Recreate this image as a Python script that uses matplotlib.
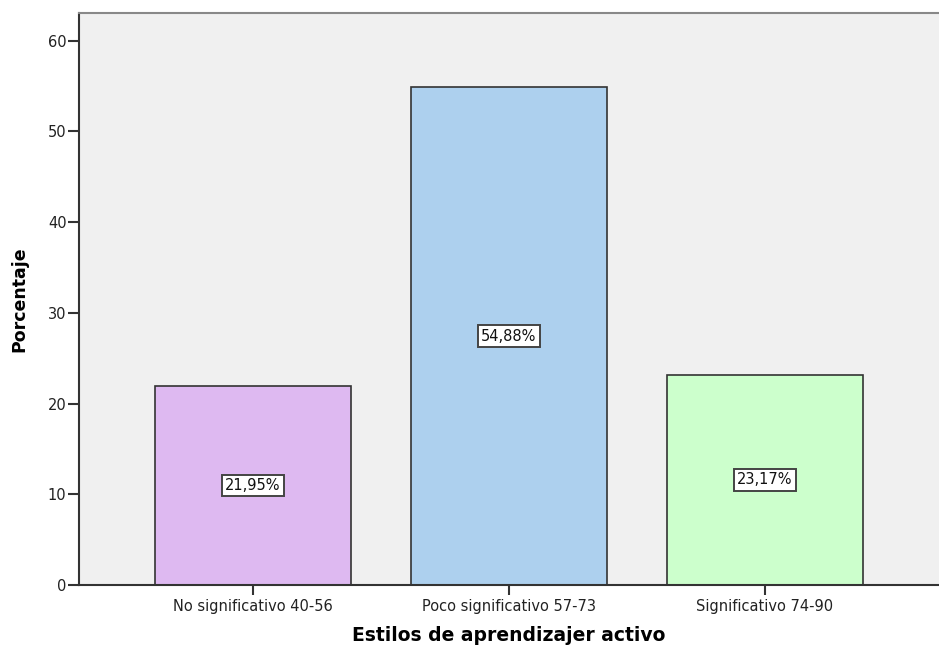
import matplotlib
matplotlib.use("Agg")
import matplotlib.pyplot as plt
import numpy as np

# data
categories = ["No significativo 40-56", "Poco significativo 57-73", "Significativo 74-90"]
percentages = [21.95, 54.88, 23.17]
labels = ["21,95%", "54,88%", "23,17%"]
colors = ["#DEB9F1", "#ADD0EE", "#CCFFCC"]
y_ticks = [0, 10, 20, 30, 40, 50, 60]

fig = plt.figure(figsize=(9.39, 6.48), dpi=100)
ax = fig.add_axes([0.0841, 0.0972, 0.9159, 0.8835])
ax.set_facecolor("#F0F0F0")

x = np.arange(len(categories))
bars = ax.bar(x, percentages, width=0.766, color=colors,
              edgecolor="#333333", linewidth=1.2, zorder=2)

for b, lab in zip(bars, labels):
    ax.text(b.get_x() + b.get_width() / 2, b.get_height() / 2, lab,
            ha="center", va="center", fontsize=10.5, color="#111111",
            bbox=dict(boxstyle="square,pad=0.22", facecolor="white",
                      edgecolor="#444444", linewidth=1.4), zorder=3)

ax.set_xlim(-0.68, 2.68)
ax.set_ylim(0, 63.1)
ax.set_xticks(x)
ax.set_xticklabels(categories, fontsize=10.5, color="#222222")
ax.set_yticks(y_ticks)
ax.set_yticklabels([str(v) for v in y_ticks], fontsize=10.5, color="#222222")
ax.tick_params(axis="y", length=8, width=1.5, color="#333333", pad=1)
ax.tick_params(axis="x", length=7, width=1.5, color="#333333", pad=3)

ax.spines["left"].set_color("#333333")
ax.spines["left"].set_linewidth(1.5)
ax.spines["bottom"].set_color("#333333")
ax.spines["bottom"].set_linewidth(1.5)
ax.spines["top"].set_color("#888888")
ax.spines["top"].set_linewidth(1.5)
ax.spines["right"].set_visible(False)

ax.set_ylabel("Porcentaje", fontsize=12.5, fontweight="bold", labelpad=14)
ax.set_xlabel("Estilos de aprendizajer activo", fontsize=13.5,
              fontweight="bold", labelpad=9)

fig.savefig("out.png", dpi=100)
plt.close(fig)
